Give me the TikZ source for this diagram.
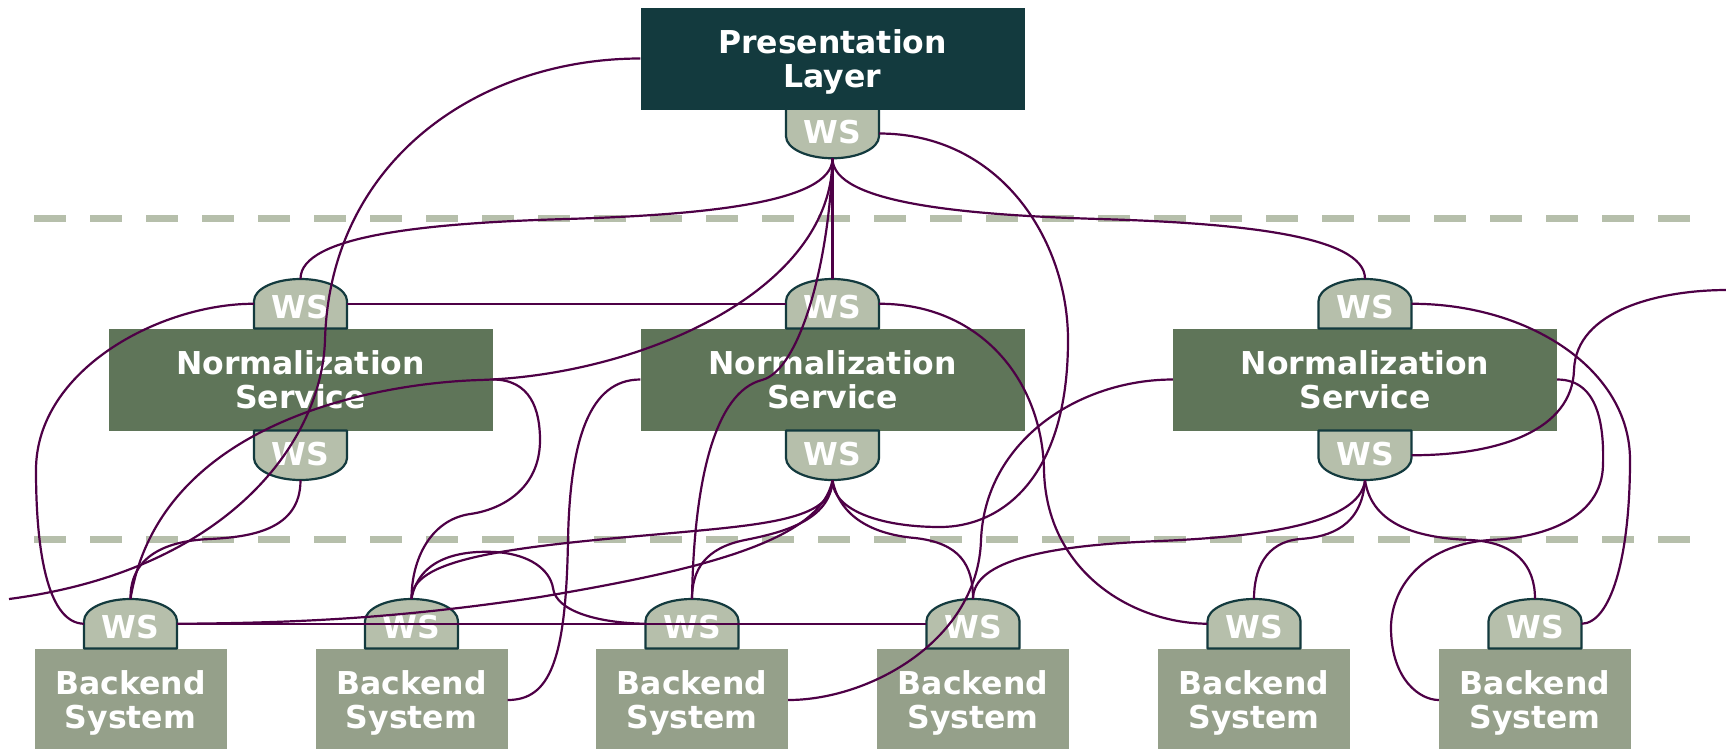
\documentclass[tikz,border=0pt]{standalone}
\usepackage{fontspec}
\setmainfont{DejaVu Sans}
\definecolor{presc}{HTML}{133A3E}
\definecolor{normc}{HTML}{5F7559}
\definecolor{backc}{HTML}{95A08A}
\definecolor{wsc}{HTML}{B6BFAB}
\definecolor{wsline}{HTML}{133A3E}
\definecolor{connc}{HTML}{4E0046}
\newcommand\lblfont{\fontsize{31.5}{34}\selectfont\bfseries}
\newcommand\domeshape[2]{\path[wsshape] ({#1-46.5},{#2+24.75}) -- ({#1-46.5},{#2-2.75}) arc[start angle=180,end angle=360,x radius=46.5,y radius=22] -- ({#1+46.5},{#2+24.75}) -- cycle;}
\newcommand\hangshape[2]{\path[wsshape] ({#1-46.5},{#2-24.75}) -- ({#1-46.5},{#2+2.75}) arc[start angle=180,end angle=0,x radius=46.5,y radius=22] -- ({#1+46.5},{#2-24.75}) -- cycle;}
\tikzset{
  blk/.style={rectangle, inner sep=0pt, align=center, text=white, font=\lblfont, text depth=0pt},
  presbox/.style={blk, fill=presc, minimum width=384pt, minimum height=102pt},
  normbox/.style={blk, fill=normc, minimum width=384pt, minimum height=102pt},
  backbox/.style={blk, fill=backc, minimum width=192pt, minimum height=102pt},
  wsn/.style={rectangle, inner sep=0pt, minimum width=93pt, minimum height=49.5pt, text=white, font=\lblfont},
  wsup/.style={wsn, text height=29pt, text depth=0pt},
  wsdown/.style={wsn, text height=23pt, text depth=3pt},
  wsshape/.style={fill=wsc, draw=wsline, line width=2.2pt, line join=round},
  tierline/.style={draw=wsc, line width=7pt, dash pattern=on 32pt off 24pt},
  conn/.style={draw=connc, line width=2.2pt},
}
\begin{document}
\begin{tikzpicture}[x=1pt,y=-1pt]
\useasboundingbox (0,0) rectangle (1726,748);
\clip (0,0) rectangle (1726,748);
\fill[white] (0,0) rectangle (1726,748);

% tier separators
\draw[tierline] (34,218) -- (1692,218);
\draw[tierline] (34,539) -- (1692,539);

% boxes
\node[presbox] (pres) at (832.5,58.5) {Presentation\\Layer};
\node[normbox] (norm1) at (300.5,379.5) {Normalization\\Service};
\node[normbox] (norm2) at (832.5,379.5) {Normalization\\Service};
\node[normbox] (norm3) at (1365,379.5) {Normalization\\Service};
\foreach \i/\x in {1/130.5,2/411.5,3/692,4/973,5/1254,6/1535}{
  \node[backbox] (back\i) at (\x,700) {Backend\\System};
}

% WS shapes
\hangshape{832.5}{133.5}
\node[wsdown] (pws) at (832.5,133.5) {WS};
\foreach \i/\x in {1/300.5,2/832.5,3/1365}{
  \domeshape{\x}{303.75}
  \node[wsup] (nt\i) at (\x,303.75) {WS};
  \hangshape{\x}{455.25}
  \node[wsdown] (nb\i) at (\x,455.25) {WS};
}
\foreach \i/\x in {1/130.5,2/411.5,3/692,4/973,5/1254,6/1535}{
  \domeshape{\x}{623.75}
  \node[wsup] (bw\i) at (\x,623.75) {WS};
}

\coordinate (leftend) at (9,599);
\coordinate (rightend) at (1727,290);

% connectors
\draw[conn] (pws.south) .. controls +(0,45) and (700,215) .. (566,219) .. controls (430,223) and (300.5,235) .. (nt1.north);
\draw[conn] (pws.south) -- (nt2.north);
\draw[conn] (pws.south) .. controls +(0,45) and (965.5,215) .. (1099.5,219) .. controls (1235.5,223) and (1365,235) .. (nt3.north);
\draw[conn] (pws.south) .. controls +(0,133) and (640,375) .. (480,380) .. controls (380,383) and (160,420) .. (bw1.north);
\draw[conn] (pws.south) .. controls +(-3,103) and (800,370) .. (762,380) .. controls (715,392) and (694,480) .. (bw3.north);
\draw[conn] (pws.east) .. controls +(121,0) and (1068,240) .. (1068,340) .. controls (1068,480) and (1000,527) .. (940,527) .. controls (880,527) and (832.5,510) .. (nb2.south);
\draw[conn] (nt1.east) -- (nt2.west);
\draw[conn] (nt1.west) .. controls +(-94,0) and (36,370) .. (36,470) .. controls (36,560) and (50,623) .. (bw1.west);
\draw[conn] (pres.west) .. controls +(-161,0) and (330,160) .. (325,340) .. controls (322,440) and (230,570) .. (leftend);
\draw[conn] (nb1.south) .. controls +(0,50) and (250,537) .. (210,539) .. controls (160,541) and (130,560) .. (bw1.north);
\draw[conn] (norm1.east) .. controls +(38,0) and (540,410) .. (540,440) .. controls (540,490) and (500,510) .. (470,514) .. controls (430,520) and (411.5,560) .. (bw2.north);
\draw[conn] (nb2.south) .. controls +(0,41) and (760,525) .. (650,535) .. controls (500,548) and (411.5,560) .. (bw2.north);
\draw[conn] (nb2.south) .. controls +(-2,41) and (780,533) .. (745,540) .. controls (705,548) and (692,570) .. (bw3.north);
\draw[conn] (nb2.south) .. controls +(-12,61) and (700,570) .. (540,597) .. controls (400,618) and (300,623) .. (bw1.east);
\draw[conn] (bw2.north) .. controls +(7,-38) and (455,550) .. (495,552) .. controls (530,554) and (550,570) .. (553,588) .. controls (556,612) and (600,623) .. (bw3.west);
\draw[conn] (nb2.south) .. controls +(8,41) and (880,535) .. (915,538) .. controls (960,543) and (973,565) .. (bw4.north);
\draw[conn] (nb3.south) .. controls +(-5,46) and (1250,537) .. (1160,541) .. controls (1050,545) and (973,560) .. (bw4.north);
\draw[conn] (norm3.west) .. controls +(-93,0) and (985,440) .. (981,540) .. controls (978,640) and (870,700) .. (back3.east);
\draw[conn] (nt2.east) .. controls +(101,0) and (1042,380) .. (1044,470) .. controls (1046,570) and (1130,623) .. (bw5.west);
\draw[conn] (norm2.west) .. controls +(-51,0) and (570,440) .. (568,540) .. controls (566,660) and (550,700) .. (back2.east);
\draw[conn] (nt3.east) .. controls +(118,0) and (1630,370) .. (1630,460) .. controls (1630,560) and (1610,623) .. (bw6.east);
\draw[conn] (nb3.east) .. controls +(88,0) and (1572,430) .. (1574,370) .. controls (1576,310) and (1660,290) .. (rightend);
\draw[conn] (norm3.east) .. controls +(43,0) and (1604,430) .. (1603,465) .. controls (1602,520) and (1540,538) .. (1490,540) .. controls (1420,545) and (1390,590) .. (1391,630) .. controls (1392,680) and (1420,700) .. (back6.west);
\draw[conn] (nb3.south) .. controls +(-3,46) and (1330,537) .. (1300,539) .. controls (1265,542) and (1254,570) .. (bw5.north);
\draw[conn] (nb3.south) .. controls +(7,46) and (1420,538) .. (1470,540) .. controls (1515,542) and (1535,565) .. (bw6.north);
\draw[conn] (bw1.east) -- (bw4.west);
\end{tikzpicture}
\end{document}
